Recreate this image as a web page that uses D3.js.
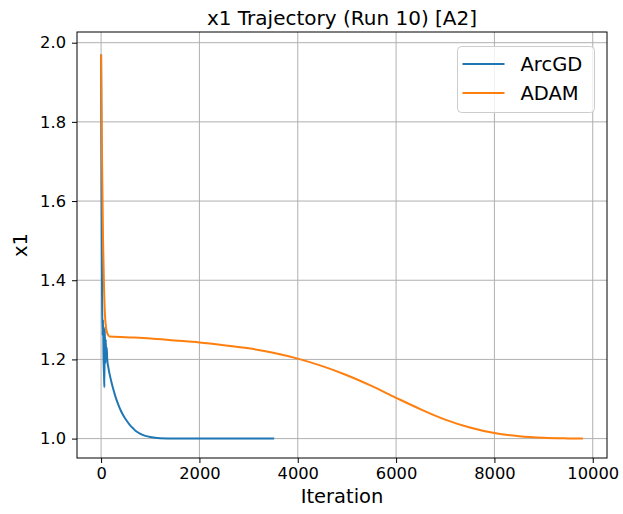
<!DOCTYPE html>
<html>
<head>
<meta charset="utf-8">
<script src="https://cdn.jsdelivr.net/npm/d3@7"></script>
<style>
  body { margin: 0; background: #fff; }
  text { font-family: "DejaVu Sans", sans-serif; fill: #000; }
</style>
</head>
<body>
<svg width="623" height="514"></svg>
<script>
// iteration, x1 value
let arcIter = [0, 10, 20, 30, 40, 50, 60, 67, 75, 85, 95, 105, 115, 125, 150, 200, 250, 300, 350, 400, 450, 500, 550, 600, 650, 700, 800, 900, 1000, 1200, 1500, 2500, 3520];
let arcVal  = [1.97, 1.6, 1.36, 1.26, 1.3, 1.2, 1.16, 1.13, 1.28, 1.19, 1.25, 1.2, 1.23, 1.2, 1.178, 1.148, 1.124, 1.103, 1.086, 1.071, 1.059, 1.049, 1.04, 1.032, 1.026, 1.02, 1.012, 1.007, 1.004, 1.001, 1.0, 1.0, 1.0];

let adamIter = [0, 20, 40, 60, 80, 100, 130, 170, 500, 1000, 1500, 2000, 2500, 3000, 3500, 4000, 4500, 5000, 5500, 6000, 6500, 7000, 7500, 8000, 8500, 9000, 9500, 9800];
let adamVal  = [1.97, 1.7, 1.5, 1.38, 1.31, 1.28, 1.265, 1.258, 1.256, 1.253, 1.248, 1.243, 1.236, 1.228, 1.217, 1.202, 1.183, 1.16, 1.133, 1.103, 1.074, 1.048, 1.028, 1.014, 1.006, 1.002, 1.0005, 1.0];

let seriesNames = ["ArcGD", "ADAM"];
let seriesColors = ["#1f77b4", "#ff7f0e"];
let xTicks = [0, 2000, 4000, 6000, 8000, 10000];
let yTicks = [1.0, 1.2, 1.4, 1.6, 1.8, 2.0];

let svg = d3.select("svg");
let margin = {left: 77, right: 16, top: 32, bottom: 56};
let width = +svg.attr("width");
let height = +svg.attr("height");

let x = d3.scaleLinear().domain([-490, 10290]).range([margin.left, width - margin.right]);
let y = d3.scaleLinear().domain([0.951, 2.027]).range([height - margin.bottom, margin.top]);

let g = svg.append("g");

// grid
g.selectAll(".gx").data(xTicks).enter().append("line")
  .attr("x1", d => x(d)).attr("x2", d => x(d))
  .attr("y1", margin.top).attr("y2", height - margin.bottom)
  .attr("stroke", "#b0b0b0").attr("stroke-width", 1);
g.selectAll(".gy").data(yTicks).enter().append("line")
  .attr("y1", d => y(d)).attr("y2", d => y(d))
  .attr("x1", margin.left).attr("x2", width - margin.right)
  .attr("stroke", "#b0b0b0").attr("stroke-width", 1);

let line = d3.line().curve(d3.curveMonotoneX).x(d => x(d[0])).y(d => y(d[1]));
let arcData = arcIter.map((t, i) => [t, arcVal[i]]);
let adamData = adamIter.map((t, i) => [t, adamVal[i]]);

g.append("path").datum(arcData).attr("d", line)
  .attr("fill", "none").attr("stroke", seriesColors[0]).attr("stroke-width", 2).attr("stroke-linejoin", "round");
g.append("path").datum(adamData).attr("d", line)
  .attr("fill", "none").attr("stroke", seriesColors[1]).attr("stroke-width", 2).attr("stroke-linejoin", "round");

// axes
let xAxis = svg.append("g").attr("transform", `translate(0,${height - margin.bottom})`)
  .call(d3.axisBottom(x).tickValues(xTicks).tickSize(5).tickPadding(4).tickFormat(d3.format("d")));
let yAxis = svg.append("g").attr("transform", `translate(${margin.left},0)`)
  .call(d3.axisLeft(y).tickValues(yTicks).tickSize(5).tickPadding(6).tickFormat(d3.format(".1f")));
[xAxis, yAxis].forEach(a => {
  a.select(".domain").remove();
  a.selectAll("line").attr("stroke", "#000").attr("stroke-width", 1);
  a.selectAll("text").attr("font-size", 16.3).attr("font-family", "DejaVu Sans");
});

// frame
svg.append("rect")
  .attr("x", margin.left).attr("y", margin.top)
  .attr("width", width - margin.left - margin.right)
  .attr("height", height - margin.top - margin.bottom)
  .attr("fill", "none").attr("stroke", "#000").attr("stroke-width", 1);

// labels
svg.append("text").attr("x", (margin.left + width - margin.right) / 2).attr("y", 25)
  .attr("text-anchor", "middle").attr("font-size", 20).text("x1 Trajectory (Run 10) [A2]");
svg.append("text").attr("x", (margin.left + width - margin.right) / 2).attr("y", 503)
  .attr("text-anchor", "middle").attr("font-size", 19.5).text("Iteration");
svg.append("text").attr("transform", `translate(27,${(margin.top + height - margin.bottom) / 2}) rotate(-90)`)
  .attr("text-anchor", "middle").attr("font-size", 19.5).text("x1");

// legend
let leg = svg.append("g").attr("transform", "translate(457.5,46.5)");
leg.append("rect").attr("width", 137).attr("height", 66).attr("rx", 4)
  .attr("fill", "#fff").attr("fill-opacity", 0.8).attr("stroke", "#cccccc").attr("stroke-width", 1);
seriesNames.forEach((name, i) => {
  let yy = 17.5 + i * 29;
  leg.append("line").attr("x1", 5).attr("x2", 47).attr("y1", yy).attr("y2", yy)
    .attr("stroke", seriesColors[i]).attr("stroke-width", 2);
  leg.append("text").attr("x", 63).attr("y", yy + 7).attr("font-size", 19.5).text(name);
});
</script>
</body>
</html>
